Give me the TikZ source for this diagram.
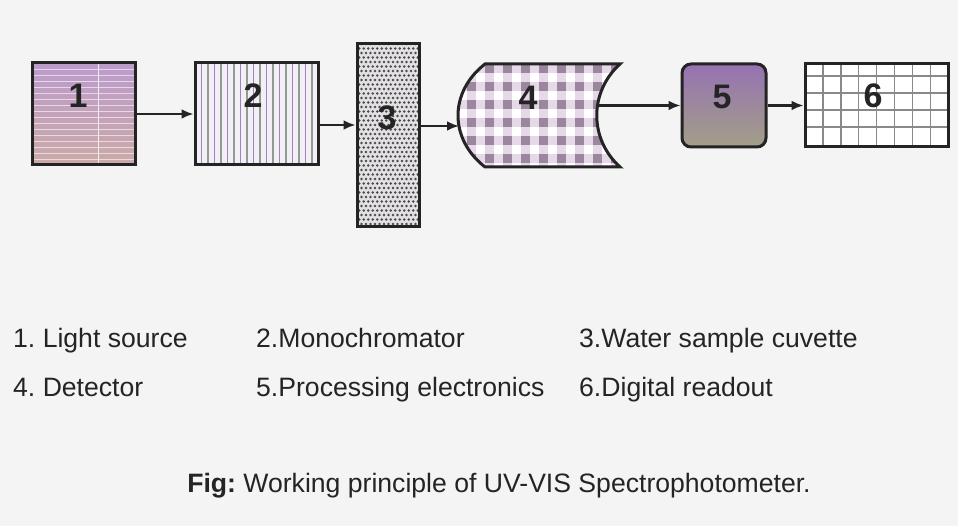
\documentclass[tikz,border=0pt]{standalone}
\usepackage{fontspec}
\setmainfont{Liberation Sans}
\usetikzlibrary{positioning,arrows.meta,calc}
\definecolor{ink}{HTML}{242424}
\definecolor{paper}{HTML}{F4F4F4}
\definecolor{srctop}{HTML}{BC9BCC}
\definecolor{srcbot}{HTML}{CBAAA8}
\definecolor{monoa}{HTML}{9C88B8}
\definecolor{monob}{HTML}{8F9C92}
\definecolor{monobg}{HTML}{F4EFF7}
\definecolor{cuvbg}{HTML}{E2E0E2}
\definecolor{cuvdot}{HTML}{4A4A4A}
\definecolor{detbg}{HTML}{E6D8E8}
\definecolor{detsq}{HTML}{9A879E}
\definecolor{proctop}{HTML}{9672B2}
\definecolor{procmid}{HTML}{B697AA}
\definecolor{procbot}{HTML}{A39F88}
\definecolor{grid}{HTML}{8C8888}
\tikzset{
  box/.style={draw=ink, line width=3pt, inner sep=0pt},
  num/.style={font=\fontsize{34}{34}\selectfont\bfseries, text=ink, inner sep=0pt},
  flow/.style={-{Latex[length=12pt,width=10pt]}, line width=2.4pt, draw=ink},
  key/.style={font=\fontsize{26.6}{30}\selectfont, text=ink, anchor=base west, inner sep=0pt},
  capt/.style={font=\fontsize{26.6}{30}\selectfont, text=ink, anchor=base, inner sep=0pt},
}
\frenchspacing

\begin{document}
\begin{tikzpicture}[x=1pt, y=-1pt]
  \fill[paper] (0,0) rectangle (958,526);
  \useasboundingbox (0,0) rectangle (958,526);
  % ---- blocks ----
  \node[box, minimum width=103pt, minimum height=102pt, top color=srctop, bottom color=srcbot,
    path picture={
      \foreach \k in {1,...,16}
        \draw[white, opacity=.6, line width=.9pt]
          ([yshift=-\k*6pt]path picture bounding box.north west) -- ([yshift=-\k*6pt]path picture bounding box.north east);
      \draw[white, opacity=.8, line width=1pt]
        ([xshift=66pt]path picture bounding box.north west) -- ([xshift=66pt]path picture bounding box.south west);
    }] (src) at (83.5,114) {};
  \node[box, fill=monobg, minimum width=123pt, minimum height=102pt,
    path picture={
      \foreach \k in {1,3,...,17}
        \draw[monoa, line width=1.6pt]
          ([xshift=\k*6.5pt]path picture bounding box.north west) -- ([xshift=\k*6.5pt]path picture bounding box.south west);
      \foreach \k in {2,4,...,18}
        \draw[monob, line width=1.6pt]
          ([xshift=\k*6.5pt]path picture bounding box.north west) -- ([xshift=\k*6.5pt]path picture bounding box.south west);
    }] (mono) at (256.5,114) {};
  \node[box, fill=cuvbg, minimum width=62pt, minimum height=183pt,
    path picture={
      \foreach \r in {0,...,41}
        \foreach \c in {0,...,14}
          \fill[cuvdot] ([xshift={\c*4.5pt+mod(\r,2)*2.25pt}, yshift=-\r*4.5pt]path picture bounding box.north west) circle (1.3pt);
    }] (cuv) at (388,135.5) {};
  % detector outline
  \coordinate (dtl) at (485,64);
  \coordinate (dtr) at (620,64);
  \coordinate (dbr) at (620,167);
  \coordinate (dbl) at (485,167);
  \coordinate (det in) at (459,126);
  \coordinate (det out) at (597,105.5);
  \draw[box, fill=detbg,
    path picture={
      \foreach \i in {0,2,...,18}
        \foreach \j in {0,2,...,12}
          \fill[detsq] ([xshift=\i*9pt, yshift=-\j*9pt]path picture bounding box.north west) rectangle ++(9pt,-9pt);
      \foreach \i in {1,3,...,17}
        \foreach \j in {1,3,...,11}
          \fill[white] ([xshift=\i*9pt, yshift=-\j*9pt]path picture bounding box.north west) rectangle ++(9pt,-9pt);
    }]
    (dtl) -- (dtr) .. controls (589,92) and (589,139) .. (dbr)
    -- (dbl) .. controls (449,139) and (449,92) .. (dtl) -- cycle;
  \node[box, rounded corners=9pt, minimum width=84pt, minimum height=83pt,
    top color=proctop, middle color=procmid, bottom color=procbot] (proc) at (724,105.5) {};
  \node[box, fill=white, minimum width=143pt, minimum height=83pt,
    path picture={
      \foreach \k in {1,...,7}
        \draw[grid, line width=1.4pt]
          ([xshift=\k*17.9pt]path picture bounding box.north west) -- ([xshift=\k*17.9pt]path picture bounding box.south west);
      \foreach \k in {0,...,3}
        \draw[grid, line width=1.4pt]
          ([yshift=-12pt-\k*17pt]path picture bounding box.north west) -- ([yshift=-12pt-\k*17pt]path picture bounding box.north east);
    }] (disp) at (876.5,105.5) {};
  % ---- numbers ----
  \node[num] (n1) at (78,96) {1};
  \node[num] (n2) at (253,96) {2};
  \node[num] (n3) at (387,118) {3};
  \node[num] (n4) at (528,98) {4};
  \node[num] (n5) at (722,97) {5};
  \node[num] (n6) at (873,96) {6};
  % ---- connectors ----
  \coordinate (m out) at ([yshift=-11pt]mono.east);
  \draw[flow] (src) -- (mono);
  \draw[flow] (m out) -- (m out -| cuv.west);
  \draw[flow] (cuv.east |- det in) -- (det in);
  \draw[flow] (det out) -- (proc.west);
  \draw[flow] (proc) -- (disp);
  % ---- key ----
  \node[key] (k1) at (13,348) {1. Light source};
  \node[key] (k2) at (256,348) {2.Monochromator};
  \node[key] (k3) at (579,348) {3.Water sample cuvette};
  \node[key] (k4) at (13,396) {4. Detector};
  \node[key] (k5) at (256,396) {5.Processing electronics};
  \node[key] (k6) at (579,396) {6.Digital readout};
  \node[capt] (cap) at (499,492) {\textbf{Fig:} Working principle of UV-VIS Spectrophotometer.};
\end{tikzpicture}
\end{document}
